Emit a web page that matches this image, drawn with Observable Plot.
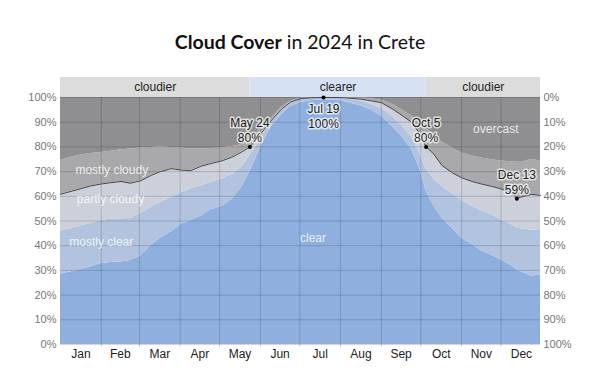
<!DOCTYPE html>
<html><head><meta charset="utf-8">
<script src="https://cdn.jsdelivr.net/npm/d3@7"></script>
<script src="https://cdn.jsdelivr.net/npm/@observablehq/plot@0.6"></script>
<style>
html,body{margin:0;padding:0;background:#fff;}
#wrap{position:relative;width:600px;height:371px;overflow:hidden;}
#chart{position:absolute;left:0;top:0;}
#title{position:absolute;left:0;top:31px;width:600px;text-align:center;font-family:Lato,"Open Sans",sans-serif;font-size:19.5px;line-height:21px;color:#111;}
#title b{font-weight:700;}
</style></head><body>
<div id="wrap"><div id="chart"></div><div id="title"><b>Cloud Cover</b> in 2024 in Crete</div></div>
<script>
// ---- data (cumulative % of time, from the bottom) ----
const dates = ["2024-01-01","2024-01-09","2024-01-16","2024-01-24","2024-02-01","2024-02-08","2024-02-16","2024-02-23",
"2024-03-02","2024-03-10","2024-03-17","2024-03-25","2024-04-02","2024-04-09","2024-04-17","2024-04-24",
"2024-05-03","2024-05-11","2024-05-18","2024-05-24","2024-05-29","2024-06-03","2024-06-09","2024-06-17",
"2024-06-24","2024-07-02","2024-07-10","2024-07-19","2024-08-01","2024-08-17","2024-08-24","2024-09-01",
"2024-09-09","2024-09-16","2024-09-24","2024-09-30","2024-10-05","2024-10-11","2024-10-17","2024-10-25",
"2024-11-01","2024-11-09","2024-11-16","2024-11-24","2024-12-01","2024-12-09","2024-12-13","2024-12-17",
"2024-12-24","2024-12-31"];
const clearTop = [28.4,29.5,30.4,31.5,32.8,33.2,33.4,34,35.8,40.3,43,45.5,48.7,50.3,52,54.5,
56,59,64,70,76,82,88,93,96.5,98,98.8,99,98.7,96.6,95,92.5,
88.5,84.5,79,71.5,62,56,51.3,47,43,40.5,38,36,34.3,32,30.2,29.3,27.7,28];
const mostlyClearTop = [46,47,48,49,50.2,50.7,50.9,51,53,55.6,57.5,59.5,61.5,63,64.3,65.6,
67,69,72,76.5,80.5,85,90,94.8,98,99.3,99.7,99.8,99.7,98.5,97.3,95.5,
92.5,89,84,77.5,71,67,64,61,58.3,56,54.2,52.5,50.5,48.5,47.3,46.8,46.3,46.2];
const partlyCloudyTop = [60.8,62,63,64.2,65,65.5,66,65.3,66.3,68.5,70,71.2,70.6,70.4,72.2,73.2,
74.4,76,78,80,83,86.5,90.5,95.3,98.2,99.6,99.9,100,100,99.3,98.7,97.9,
95.5,93,90,85.5,80,77,72.5,69.5,67.5,66,65,64,63,61.5,59.2,59.8,60.8,60.4];
const mostlyCloudyTop = [74.5,75.8,76.6,77.3,77.7,78.2,78.8,79.2,79.6,79.8,80,79.8,79.6,79.2,79.2,79.4,
79.6,80.2,81,83,85.5,88.5,91.5,96,98.6,99.8,100,100,100,100,99.5,98.9,
97.5,95.2,92.5,90,87.5,85,82,79.5,77.5,76.3,75.5,74.8,74.3,74,73.8,73.8,75,74.3];

const categories = ["clear","mostly clear","partly cloudy","mostly cloudy","overcast"];
const categoryColors = ["#8fb0de","#b1c3df","#cbd0da","#a9a9ab","#8f8f91"];
const categoryLabelDates = ["2024-07-11","2024-02-01","2024-02-08","2024-02-09","2024-11-27"];
const categoryLabelValues = [43.2,41.5,59,70.6,87.1];

const bandLabels = ["cloudier","clearer","cloudier"];
const bandStarts = ["2024-01-01","2024-05-24","2024-10-05"];
const bandEnds = ["2024-05-24","2024-10-05","2024-12-31"];
const bandColors = ["#dcdcdc","#d6e2f3","#dcdcdc"];

const annDates = ["2024-05-24","2024-07-19","2024-10-05","2024-12-13"];
const annValues = [80,100,80,59];

const monthLabels = ["Jan","Feb","Mar","Apr","May","Jun","Jul","Aug","Sep","Oct","Nov","Dec"];
const yTicks = [0,10,20,30,40,50,60,70,80,90,100];
const yLabelsLeft = ["0%","10%","20%","30%","40%","50%","60%","70%","80%","90%","100%"];
const yLabelsRight = ["100%","90%","80%","70%","60%","50%","40%","30%","20%","10%","0%"];

// ---- build ----
const parse = d3.utcParse("%Y-%m-%d");
const rows = dates.map((d,i)=>({date:parse(d), b0:0, b1:clearTop[i], b2:mostlyClearTop[i], b3:partlyCloudyTop[i], b4:mostlyCloudyTop[i], b5:100}));
const bounds = ["b0","b1","b2","b3","b4","b5"];
const areas = categories.map((c,k)=>Plot.areaY(rows,{x:"date", y1:bounds[k], y2:bounds[k+1], fill:categoryColors[k], curve:"linear"}));

const yearStart = parse("2024-01-01"), yearEnd = parse("2024-12-31");
const monthStarts = d3.utcMonth.range(parse("2024-02-01"), parse("2024-12-02"));
const allStarts = d3.utcMonth.range(parse("2024-01-01"), parse("2025-01-01"));
const monthMids = allStarts.map(d=>new Date((+d + +d3.utcMonth.offset(d,1))/2));
const monthByTime = new Map(monthMids.map((d,i)=>[+d, monthLabels[i]]));

const bands = bandLabels.map((l,i)=>({label:l, x1:parse(bandStarts[i]), x2:parse(bandEnds[i]), fill:bandColors[i]}));
const catLabels = categories.map((c,i)=>({label:c, date:parse(categoryLabelDates[i]), v:categoryLabelValues[i]}));
const anns = annDates.map((d,i)=>({date:parse(d), v:annValues[i], text:d3.utcFormat("%b %-d")(parse(d))+"\n"+annValues[i]+"%"}));
const bandTop = 108.1;

const chart = Plot.plot({
  width:600, height:371,
  marginLeft:60, marginRight:60, marginTop:77, marginBottom:27,
  style:{fontFamily:"'Liberation Sans', Arial, sans-serif", fontSize:"12px", background:"transparent"},
  x:{type:"utc", domain:[yearStart, yearEnd]},
  y:{domain:[0, bandTop]},
  marks:[
    ...areas,
    Plot.rect(bands,{x1:"x1", x2:"x2", y1:100, y2:bandTop, fill:"fill"}),
    Plot.text(bands,{x:d=>new Date((+d.x1 + +d.x2)/2), y:(100+bandTop)/2, text:"label", fill:"#222", fontSize:12}),
    Plot.gridY(yTicks,{stroke:"#000", strokeOpacity:0.16}),
    Plot.gridX(monthStarts,{y1:0, y2:100, stroke:"#000", strokeOpacity:0.16}),
    Plot.axisX(monthStarts,{tickSize:3, tickFormat:()=>"", stroke:"#000", strokeOpacity:0.2}),
    Plot.axisX(monthMids,{tickSize:0, tickPadding:5, tickFormat:d=>monthByTime.get(+d), fill:"#222", fontSize:12}),
    Plot.axisY(yTicks,{anchor:"left", tickSize:0, tickPadding:4, tickFormat:d=>yLabelsLeft[yTicks.indexOf(d)], fill:"#777", fontSize:11, label:null}),
    Plot.axisY(yTicks,{anchor:"right", tickSize:0, tickPadding:3, tickFormat:d=>yLabelsRight[yTicks.indexOf(d)], fill:"#777", fontSize:11, label:null}),
    Plot.text(catLabels,{x:"date", y:"v", text:"label", fill:"#fff", fillOpacity:0.8, fontSize:12}),
    Plot.lineY(rows,{x:"date", y:"b3", stroke:"#444", strokeWidth:1}),
    Plot.dot(anns,{x:"date", y:"v", r:2, fill:"#000"}),
    Plot.text(anns.filter(d=>d.v<100),{x:"date", y:"v", text:"text", lineAnchor:"bottom", lineHeight:1.25, dy:-5, fill:"#222", stroke:"#fff", strokeOpacity:0.7, strokeWidth:3, fontSize:12}),
    Plot.text(anns.filter(d=>d.v>=100),{x:"date", y:"v", text:"text", lineAnchor:"top", lineHeight:1.25, dy:5, fill:"#222", stroke:"#fff", strokeOpacity:0.7, strokeWidth:3, fontSize:12})
  ]
});
document.getElementById("chart").appendChild(chart);
</script>
</body></html>
